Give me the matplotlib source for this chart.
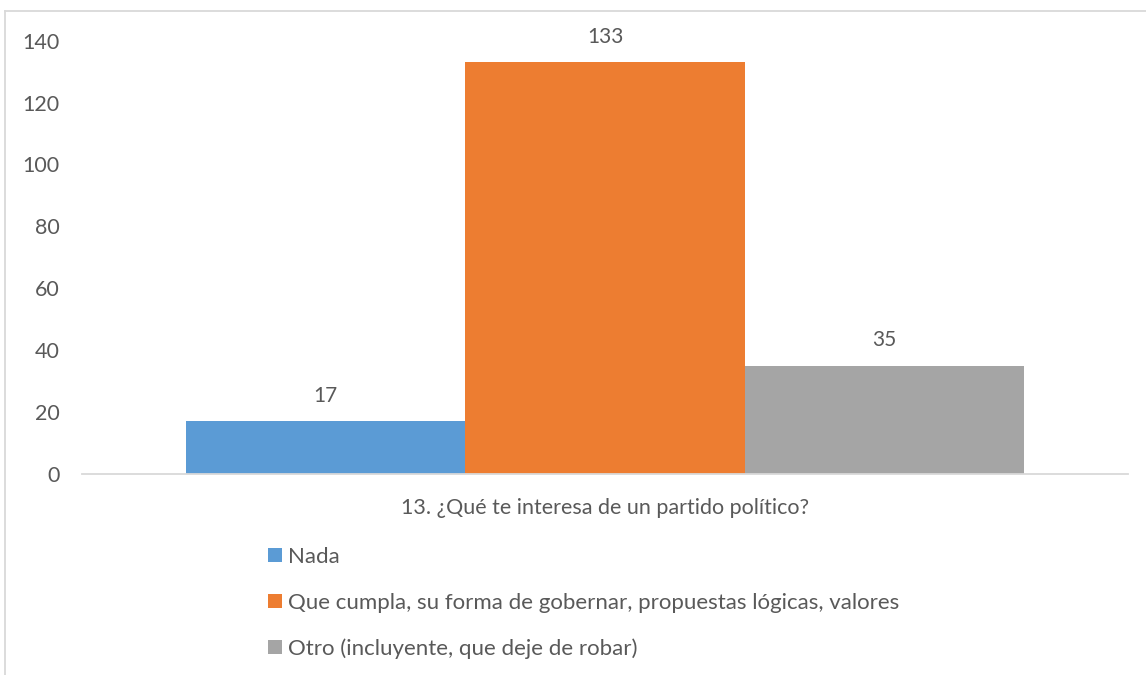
import matplotlib as mpl
import matplotlib.pyplot as plt
from matplotlib.lines import Line2D

categories = ["Nada",
              "Que cumpla, su forma de gobernar, propuestas lógicas, valores",
              "Otro (incluyente, que deje de robar)"]
values = [17, 133, 35]
colors = ["#5B9BD5", "#ED7D31", "#A5A5A5"]
group_label = "13. ¿Qué te interesa de un partido político?"
yticks = [0, 20, 40, 60, 80, 100, 120, 140]

TEXT = "#595959"
mpl.rcParams["font.family"] = ["Lato", "DejaVu Sans"]

fig = plt.figure(figsize=(11.46, 6.75), dpi=100)
ax = fig.add_axes([0.0716, 0.2978, 0.9127, 0.642])

positions = [-1, 0, 1]
bars = []
for x, v, c, lab in zip(positions, values, colors, categories):
    b = ax.bar(x, v, width=1.0, color=c, label=lab, zorder=2)
    bars.append(b)
    ax.text(x, v + 5, str(v), ha="center", va="bottom", fontsize=15, color=TEXT)

ax.set_xlim(-1.873, 1.873)
ax.set_ylim(0, 140)
ax.set_yticks(yticks)
ax.set_xticks([0])
ax.set_xticklabels([group_label])
ax.tick_params(axis="y", length=0, pad=16, labelsize=15.5, labelcolor=TEXT)
ax.tick_params(axis="x", length=0, pad=17, labelsize=15.5, labelcolor=TEXT)
for s in ["top", "right", "left"]:
    ax.spines[s].set_visible(False)
ax.spines["bottom"].set_color("#D9D9D9")
ax.spines["bottom"].set_linewidth(1.3)

leg = fig.legend(handles=[b[0] for b in bars], labels=categories,
                 loc="upper left", bbox_to_anchor=(268 / 1146, 1 - 547 / 675),
                 frameon=False, fontsize=16, labelcolor=TEXT,
                 handlelength=0.62, handleheight=0.62, handletextpad=0.28,
                 labelspacing=1.15, borderaxespad=0, borderpad=0)

# outer chart frame (partially cropped)
fig.add_artist(Line2D([5 / 1146, 1], [1 - 11 / 675] * 2, color="#D9D9D9", lw=1.3))
fig.add_artist(Line2D([5 / 1146] * 2, [0, 1 - 11 / 675], color="#D9D9D9", lw=1.3))

fig.savefig("out.png", dpi=100)
